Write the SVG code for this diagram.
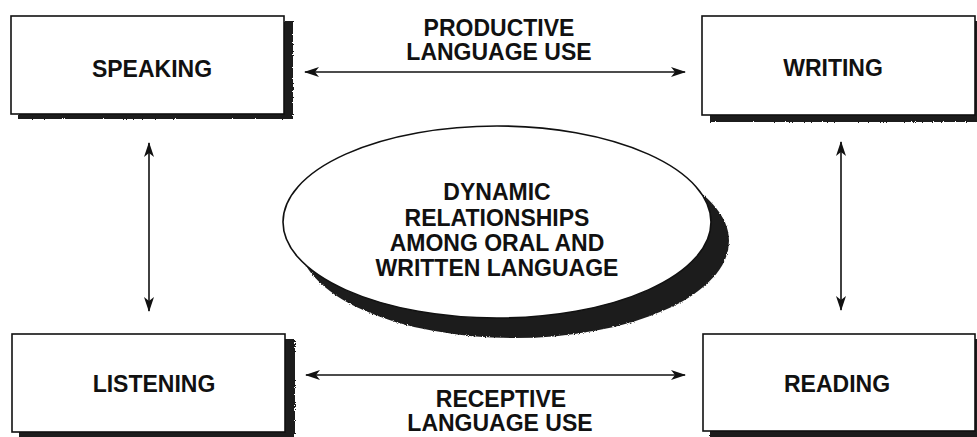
<svg xmlns="http://www.w3.org/2000/svg" width="977" height="437" viewBox="0 0 977 437">
  <style>
    .box { fill: #ffffff; stroke: #111111; stroke-width: 1.6; }
    .shadow { fill: #1e1e1e; }
    .lbl { font-family: "Liberation Sans", Arial, sans-serif; font-weight: bold; font-size: 23px; fill: #111111; text-anchor: middle; }
    .conn { stroke: #111111; stroke-width: 1.6; fill: none; marker-start: url(#ah); marker-end: url(#ah); }
  </style>
  <defs>
    <marker id="ah" viewBox="0 0 15 11" refX="14" refY="5.5" markerWidth="15" markerHeight="11" markerUnits="userSpaceOnUse" orient="auto-start-reverse">
      <path d="M0,0.5 L15,5.5 L0,10.5 L4,5.5 Z" fill="#111111"/>
    </marker>
    <filter id="rough" x="-5%" y="-5%" width="110%" height="110%">
      <feTurbulence type="fractalNoise" baseFrequency="0.9" numOctaves="1" seed="3" result="n"/>
      <feDisplacementMap in="SourceGraphic" in2="n" scale="3" xChannelSelector="R" yChannelSelector="G"/>
    </filter>
  </defs>
  <rect width="977" height="437" fill="#ffffff"/>

  <g id="connectors">
    <line class="conn" x1="305" y1="72" x2="685" y2="72"/>
    <line class="conn" x1="306" y1="375" x2="685" y2="375"/>
    <line class="conn" x1="149" y1="143" x2="149" y2="311"/>
    <line class="conn" x1="841" y1="142" x2="841" y2="310"/>
    <text class="lbl" x="499" y="36">PRODUCTIVE</text>
    <text class="lbl" x="499" y="60">LANGUAGE USE</text>
    <text class="lbl" x="501" y="407">RECEPTIVE</text>
    <text class="lbl" x="500" y="431">LANGUAGE USE</text>
  </g>

  <g id="speaking">
    <rect class="shadow" filter="url(#rough)" x="18" y="21" width="275" height="98"/>
    <rect class="box" x="11" y="16" width="273" height="98"/>
    <text class="lbl" x="152" y="77">SPEAKING</text>
  </g>

  <g id="writing">
    <rect class="shadow" filter="url(#rough)" x="710" y="21" width="275" height="101"/>
    <rect class="box" x="702" y="16" width="273" height="99"/>
    <text class="lbl" x="833" y="76">WRITING</text>
  </g>

  <g id="listening">
    <rect class="shadow" filter="url(#rough)" x="19" y="339" width="276" height="105"/>
    <rect class="box" x="12" y="334" width="273" height="98"/>
    <text class="lbl" x="154" y="392">LISTENING</text>
  </g>

  <g id="reading">
    <rect class="shadow" filter="url(#rough)" x="710" y="339" width="276" height="105"/>
    <rect class="box" x="703" y="334" width="272" height="97"/>
    <text class="lbl" x="837" y="392">READING</text>
  </g>

  <g id="center">
    <ellipse class="shadow" filter="url(#rough)" cx="514" cy="241" rx="215" ry="97"/>
    <ellipse class="box" cx="497" cy="222" rx="214" ry="96"/>
    <text class="lbl" x="497" y="200">DYNAMIC</text>
    <text class="lbl" x="497" y="226">RELATIONSHIPS</text>
    <text class="lbl" x="497" y="251">AMONG ORAL AND</text>
    <text class="lbl" x="497" y="276">WRITTEN LANGUAGE</text>
  </g>
</svg>
